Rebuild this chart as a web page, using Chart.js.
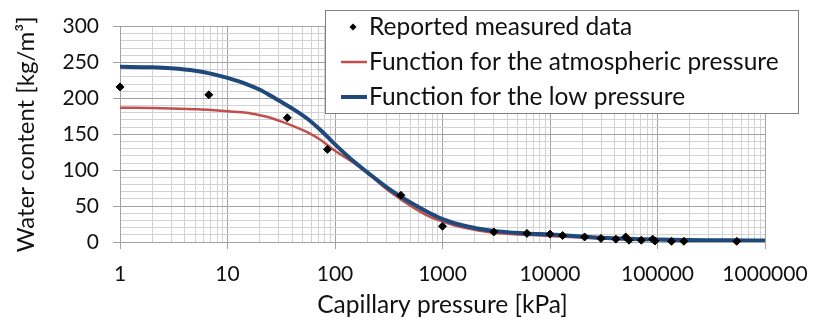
<!DOCTYPE html>
<html lang="en">
<head>
<meta charset="UTF-8" />
<title>Water content vs capillary pressure</title>
<script src="https://cdn.jsdelivr.net/npm/chart.js@4.4.0/dist/chart.umd.min.js"></script>
<style>
  html, body { margin: 0; padding: 0; background: #ffffff; }
</style>
</head>
<body>
<canvas id="myChart" width="813" height="329"></canvas>
<script>
// measured points
var pressureMeasured = [1, 6.7, 36, 85, 410, 1000, 3000, 6100, 10000, 13100, 21000, 29800, 41000, 50600, 54300, 70700, 90200, 94800, 135000, 176000, 546000];
var waterMeasured = [216, 205, 173, 129, 65, 22, 14, 12, 11, 9, 7, 5, 4, 7, 2.5, 2.5, 4, 1.5, 1, 1, 1];

// fitted retention functions
var pressureCurve = [1, 2, 3, 5, 7, 10, 15, 20, 25, 30, 40, 55, 72, 100, 150, 200, 325, 575, 765, 1000, 1560, 3000, 6000, 10000, 30000, 100000, 1000000];
var waterAtmospheric = [187, 186.5, 186, 185, 184, 182, 180, 176.5, 173, 169, 162, 153, 143, 127, 110, 96, 70, 45, 35, 28.5, 20, 12.8, 10, 8.5, 5, 3, 1.5];
var waterLowPressure = [244, 243.4, 242, 238.5, 234.5, 228.5, 220, 212, 204, 197, 186, 172, 157, 136, 112, 97, 73, 50, 40, 32, 23, 15.5, 12, 10.5, 6, 3.5, 2];

// axis ticks
var decades = [1, 10, 100, 1000, 10000, 100000, 1000000];
var yMax = 300;
var yLabelStep = 50;

var majorColor = "#a3a3a3";
var minorColor = "#d2d2d2";
var fontFamily = "Lato, 'Noto Sans', sans-serif";
var textColor = "#111111";

var xTicks = [];
for (var i = 0; i < decades.length - 1; i++) {
  for (var m = 1; m < 10; m++) xTicks.push(m * decades[i]);
}
xTicks.push(decades[decades.length - 1]);

function isDecade(v) {
  return decades.indexOf(v) !== -1;
}

function toPoints(xs, ys) {
  return xs.map(function (x, i) { return { x: x, y: ys[i] }; });
}

var legendBox = {
  id: "legendBox",
  afterDraw: function (chart) {
    var ctx = chart.ctx;
    var left = 325, top = 10, width = 473, height = 103;
    var rows = [27, 62, 97];
    ctx.save();
    ctx.fillStyle = "#ffffff";
    ctx.fillRect(left, top, width, height);
    ctx.strokeStyle = "#808080";
    ctx.lineWidth = 1;
    ctx.strokeRect(left + 0.5, top + 0.5, width, height);
    ctx.font = "24.5px " + fontFamily;
    ctx.textBaseline = "middle";
    ctx.textAlign = "left";
    chart.data.datasets.forEach(function (ds, i) {
      var y = rows[i];
      if (ds.showLine) {
        ctx.strokeStyle = ds.borderColor;
        ctx.lineWidth = ds.borderWidth;
        ctx.beginPath();
        ctx.moveTo(341, y);
        ctx.lineTo(367, y);
        ctx.stroke();
      } else {
        ctx.fillStyle = ds.backgroundColor;
        ctx.beginPath();
        ctx.moveTo(353 - 3.5, y);
        ctx.lineTo(353, y - 3.5);
        ctx.lineTo(353 + 3.5, y);
        ctx.lineTo(353, y + 3.5);
        ctx.closePath();
        ctx.fill();
      }
      ctx.fillStyle = textColor;
      ctx.fillText(ds.label, 369, y);
    });
    ctx.restore();
  }
};

new Chart(document.getElementById("myChart"), {
  type: "scatter",
  data: {
    datasets: [
      {
        label: "Reported measured data",
        data: toPoints(pressureMeasured, waterMeasured),
        showLine: false,
        pointStyle: "rectRot",
        pointRadius: 4,
        pointBorderWidth: 1,
        backgroundColor: "#000000",
        borderColor: "#000000",
        clip: false,
        order: 0
      },
      {
        label: "Function for the atmospheric pressure",
        data: toPoints(pressureCurve, waterAtmospheric),
        showLine: true,
        pointRadius: 0,
        borderColor: "#c0504d",
        borderWidth: 2.5,
        cubicInterpolationMode: "monotone",
        order: 2
      },
      {
        label: "Function for the low pressure",
        data: toPoints(pressureCurve, waterLowPressure),
        showLine: true,
        pointRadius: 0,
        borderColor: "#1f497d",
        borderWidth: 4,
        cubicInterpolationMode: "monotone",
        order: 1
      }
    ]
  },
  options: {
    responsive: false,
    animation: false,
    layout: { padding: { top: 17, right: 48, left: 0, bottom: 0 } },
    plugins: {
      legend: { display: false },
      tooltip: { enabled: false }
    },
    scales: {
      x: {
        type: "logarithmic",
        min: 1,
        max: 1000000,
        afterBuildTicks: function (scale) {
          scale.ticks = xTicks.map(function (v) { return { value: v, major: isDecade(v) }; });
        },
        afterFit: function (scale) {
          scale.height = 87;
          scale.paddingLeft = 0;
          scale.paddingRight = 0;
        },
        grid: {
          color: function (c) { return c.tick && isDecade(c.tick.value) ? majorColor : minorColor; },
          tickColor: function (c) { return c.tick && isDecade(c.tick.value) ? majorColor : "rgba(0,0,0,0)"; },
          tickLength: 7,
          lineWidth: 1
        },
        border: { color: majorColor },
        ticks: {
          autoSkip: false,
          maxRotation: 0,
          padding: 13,
          color: textColor,
          font: { family: fontFamily, size: 21 },
          callback: function (value) { return isDecade(value) ? String(value) : ""; }
        },
        title: {
          display: true,
          text: "Capillary pressure [kPa]",
          color: textColor,
          font: { family: fontFamily, size: 24.5 },
          padding: { top: 0, bottom: 9 }
        }
      },
      y: {
        min: 0,
        max: yMax,
        afterFit: function (scale) { scale.width = 120; },
        grid: {
          color: function (c) { return c.tick && c.tick.value % yLabelStep === 0 ? majorColor : minorColor; },
          tickColor: function (c) { return c.tick && c.tick.value % yLabelStep === 0 ? majorColor : "rgba(0,0,0,0)"; },
          tickLength: 7,
          lineWidth: 1
        },
        border: { color: majorColor },
        ticks: {
          stepSize: 10,
          maxTicksLimit: 40,
          autoSkip: false,
          padding: 14,
          color: textColor,
          font: { family: fontFamily, size: 21 },
          callback: function (value) { return value % yLabelStep === 0 ? String(value) : ""; }
        },
        title: {
          display: true,
          text: "Water content [kg/m³]",
          color: textColor,
          font: { family: fontFamily, size: 24 },
          padding: { top: 12, bottom: 0 }
        }
      }
    }
  },
  plugins: [legendBox]
});
</script>
</body>
</html>
